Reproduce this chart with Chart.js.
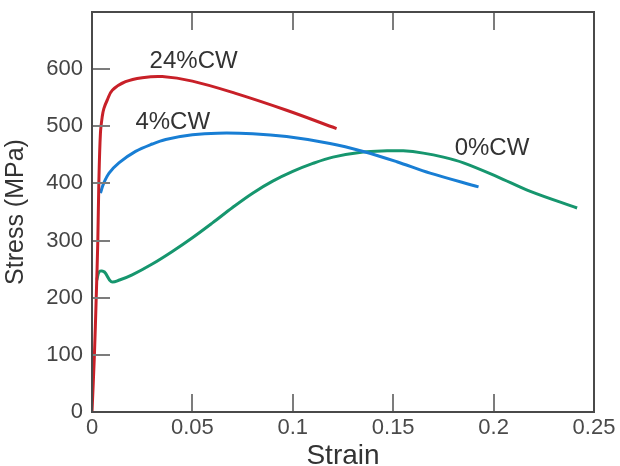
<!DOCTYPE html>
<html><head><meta charset="utf-8">
<script src="https://cdn.jsdelivr.net/npm/chart.js@4/dist/chart.umd.min.js"></script>
<style>html,body{margin:0;padding:0;background:#fff}#wrap{width:620px;height:466px}</style>
</head><body><div id="wrap"><canvas id="c" width="620" height="466"></canvas></div>
<script>
// ---- data ----
const strain24 = [0, 0.0012, 0.0021, 0.0029, 0.0034, 0.0042, 0.0051, 0.0059, 0.0076, 0.0101, 0.0167, 0.025, 0.035, 0.05, 0.0711, 0.0969, 0.1218];
const stress24 = [0, 100, 200, 300, 400, 488, 517, 531, 546, 563, 578, 585, 587, 579, 558, 528, 496];

const strain4 = [0.0042, 0.0058, 0.0085, 0.0134, 0.0217, 0.03, 0.0367, 0.05, 0.0625, 0.08, 0.0969, 0.1185, 0.1351, 0.1518, 0.1684, 0.1925];
const stress4 = [383, 400, 418, 436, 456, 469, 477, 485, 488, 487, 482, 470, 456, 438, 418, 394];

const strain0 = [0.0024, 0.0037, 0.0062, 0.0096, 0.0137, 0.02, 0.03, 0.04, 0.05, 0.06, 0.07, 0.08, 0.09, 0.1, 0.11, 0.12, 0.135, 0.147, 0.155, 0.165, 0.175, 0.185, 0.2017, 0.2183, 0.2416];
const stress0 = [231, 246, 245, 228, 231, 240, 259, 281, 305, 331, 358, 383, 404, 421, 435, 446, 455, 457, 457, 453, 446, 436, 412, 386, 357];

const seriesNames = ['24%CW', '4%CW', '0%CW'];
const xTickValues = [0, 0.05, 0.1, 0.15, 0.2, 0.25];
const yTickValues = [0, 100, 200, 300, 400, 500, 600];
const xTitle = 'Strain';
const yTitle = 'Stress (MPa)';

// label anchors (data units)
const labelStrain = [0.0506, 0.0402, 0.1992];
const labelStress = [613, 506, 462];

const FONT = '"Liberation Sans", Arial, Helvetica, sans-serif';
const toPts = (xs, ys) => xs.map((x, i) => ({x: x, y: ys[i]}));

const framePlugin = {
  id: 'frame',
  afterDatasetsDraw(chart) {
    const {ctx, chartArea: a, scales: {x, y}} = chart;
    ctx.save();
    ctx.strokeStyle = '#7c7c7c';
    ctx.lineWidth = 2;
    ctx.beginPath();
    yTickValues.forEach(v => {
      if (v > 0) {
        const py = Math.round(y.getPixelForValue(v));
        ctx.moveTo(a.left, py); ctx.lineTo(a.left + 18, py);
      }
    });
    xTickValues.forEach(v => {
      if (v > 0 && v < 0.25) {
        const px = Math.round(x.getPixelForValue(v));
        ctx.moveTo(px, a.top); ctx.lineTo(px, a.top + 18);
        ctx.moveTo(px, a.bottom); ctx.lineTo(px, a.bottom - 18);
      }
    });
    ctx.stroke();
    ctx.strokeStyle = '#4a4a4a';
    ctx.lineWidth = 2;
    ctx.strokeRect(a.left, a.top, a.right - a.left, a.bottom - a.top);
    ctx.font = '24px ' + FONT;
    ctx.fillStyle = '#333';
    ctx.textAlign = 'center';
    ctx.textBaseline = 'middle';
    seriesNames.forEach((t, i) => ctx.fillText(t, x.getPixelForValue(labelStrain[i]), y.getPixelForValue(labelStress[i])));
    ctx.restore();
  }
};

new Chart(document.getElementById('c'), {
  type: 'scatter',
  data: {
    datasets: [
      {label: seriesNames[0], data: toPts(strain24, stress24), borderColor: 'rgb(200,32,40)'},
      {label: seriesNames[1], data: toPts(strain4, stress4), borderColor: 'rgb(24,126,212)'},
      {label: seriesNames[2], data: toPts(strain0, stress0), borderColor: 'rgb(22,150,110)'}
    ].map(d => Object.assign(d, {showLine: true, pointRadius: 0, borderWidth: 3, tension: 0.35, fill: false}))
  },
  options: {
    responsive: false,
    animation: false,
    devicePixelRatio: 1,
    layout: {padding: {top: 12, right: 26, bottom: 0, left: 0}},
    plugins: {legend: {display: false}, tooltip: {enabled: false}},
    scales: {
      x: {
        type: 'linear', min: 0, max: 0.25,
        afterBuildTicks: s => { s.ticks = xTickValues.map(v => ({value: v})); },
        afterFit: s => { s.height = 54; },
        grid: {display: false, drawTicks: false},
        border: {display: false},
        ticks: {padding: 3, color: '#4a4a4a', font: {family: FONT, size: 22}, maxRotation: 0,
                callback: v => String(Number(v.toFixed(2)))},
        title: {display: true, text: xTitle, color: '#333', font: {family: FONT, size: 28, lineHeight: 0.7}, padding: 0}
      },
      y: {
        type: 'linear', min: 0, max: 700,
        afterBuildTicks: s => { s.ticks = yTickValues.map(v => ({value: v})); },
        afterFit: s => { s.width = 92; s.paddingTop = 0; s.paddingBottom = 0; },
        grid: {display: false, drawTicks: false},
        border: {display: false},
        ticks: {padding: 9, color: '#444', font: {family: FONT, size: 22},
                callback: v => String(v)},
        title: {display: true, text: yTitle, color: '#333', font: {family: FONT, size: 25, lineHeight: 1.2}, padding: {top: 1, bottom: 0}}
      }
    }
  },
  plugins: [framePlugin]
});
</script></body></html>
